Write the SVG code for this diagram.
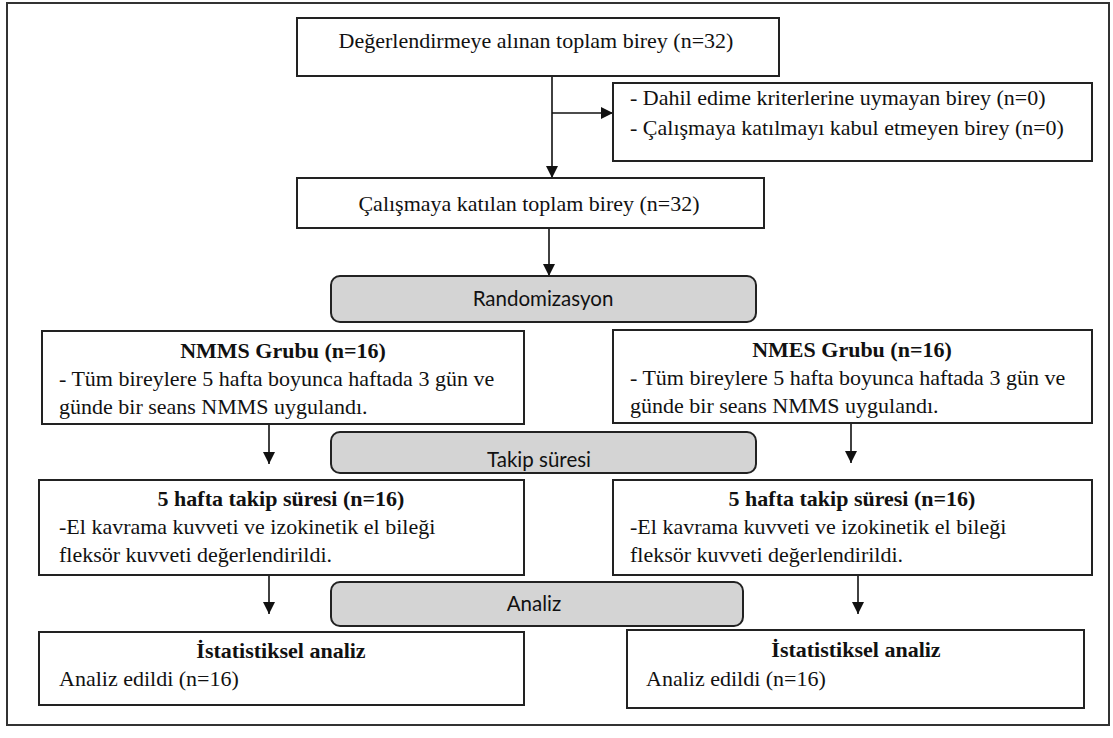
<svg xmlns="http://www.w3.org/2000/svg" width="1113" height="738" viewBox="0 0 1113 738">
<defs>
<marker id="ah" viewBox="0 0 12 12" refX="12" refY="6" markerWidth="13" markerHeight="12" markerUnits="userSpaceOnUse" orient="auto">
<path d="M0,0 L12,6 L0,12 Z" fill="#111"/>
</marker>
<style>
.box{fill:#fff;stroke:#222;stroke-width:2}
.gbox{fill:#d4d4d4;stroke:#222;stroke-width:2}
.t{font-family:"Liberation Serif","Times New Roman",serif;font-size:22px;fill:#111}
.b{font-weight:bold}
.s{font-family:Lato,"Liberation Sans",sans-serif;font-size:20.5px;fill:#111}
.c{stroke:#111;stroke-width:1.6;fill:none}
</style>
</defs>
<rect x="0" y="0" width="1113" height="738" fill="#fff"/>
<rect x="7" y="3" width="1102" height="722" fill="none" stroke="#333" stroke-width="2"/>

<g id="connectors">
<line class="c" x1="552" y1="76" x2="552" y2="178" marker-end="url(#ah)"/>
<line class="c" x1="552" y1="113" x2="613" y2="113" marker-end="url(#ah)"/>
<line class="c" x1="549" y1="228" x2="549" y2="276" marker-end="url(#ah)"/>
<line class="c" x1="269" y1="424" x2="269" y2="464" marker-end="url(#ah)"/>
<line class="c" x1="851" y1="423" x2="851" y2="463" marker-end="url(#ah)"/>
<line class="c" x1="269" y1="575" x2="269" y2="614" marker-end="url(#ah)"/>
<line class="c" x1="858" y1="575" x2="858" y2="614" marker-end="url(#ah)"/>
</g>

<g id="n-total">
<rect class="box" x="297" y="18" width="482" height="58"/>
<text class="t" x="536" y="48" text-anchor="middle">Değerlendirmeye alınan toplam birey (n=32)</text>
</g>

<g id="n-excluded">
<rect class="box" x="613" y="83" width="479" height="78"/>
<text class="t" x="630" y="105">- Dahil edime kriterlerine uymayan birey (n=0)</text>
<text class="t" x="630" y="135">- Çalışmaya katılmayı kabul etmeyen birey (n=0)</text>
</g>

<g id="n-included">
<rect class="box" x="297" y="178" width="467" height="50"/>
<text class="t" x="529" y="211" text-anchor="middle">Çalışmaya katılan toplam birey (n=32)</text>
</g>

<g id="n-random">
<rect class="gbox" x="331" y="276" width="425" height="46" rx="9"/>
<text class="s" x="543" y="306" text-anchor="middle">Randomizasyon</text>
</g>

<g id="n-nmms">
<rect class="box" x="42" y="331" width="482" height="93"/>
<text class="t b" x="283" y="358" text-anchor="middle">NMMS Grubu (n=16)</text>
<text class="t" x="59" y="386">- Tüm bireylere 5 hafta boyunca haftada 3 gün ve</text>
<text class="t" x="59" y="414">günde bir seans NMMS uygulandı.</text>
</g>

<g id="n-nmes">
<rect class="box" x="613" y="330" width="479" height="93"/>
<text class="t b" x="852" y="357" text-anchor="middle">NMES Grubu (n=16)</text>
<text class="t" x="630" y="385">- Tüm bireylere 5 hafta boyunca haftada 3 gün ve</text>
<text class="t" x="630" y="413">günde bir seans NMMS uygulandı.</text>
</g>

<g id="n-takip">
<rect class="gbox" x="331" y="432" width="425" height="41" rx="9"/>
<text class="s" x="539" y="467" text-anchor="middle">Takip süresi</text>
</g>

<g id="n-follow-left">
<rect class="box" x="39" y="480" width="485" height="95"/>
<text class="t b" x="281" y="506" text-anchor="middle">5 hafta takip süresi (n=16)</text>
<text class="t" x="59" y="534">-El kavrama kuvveti ve izokinetik el bileği</text>
<text class="t" x="59" y="562">fleksör kuvveti değerlendirildi.</text>
</g>

<g id="n-follow-right">
<rect class="box" x="613" y="480" width="479" height="95"/>
<text class="t b" x="852" y="506" text-anchor="middle">5 hafta takip süresi (n=16)</text>
<text class="t" x="630" y="534">-El kavrama kuvveti ve izokinetik el bileği</text>
<text class="t" x="630" y="562">fleksör kuvveti değerlendirildi.</text>
</g>

<g id="n-analiz">
<rect class="gbox" x="331" y="582" width="412" height="44" rx="9"/>
<text class="s" x="534" y="611" text-anchor="middle">Analiz</text>
</g>

<g id="n-stat-left">
<rect class="box" x="39" y="632" width="485" height="73"/>
<text class="t b" x="281" y="658" text-anchor="middle">İstatistiksel analiz</text>
<text class="t" x="59" y="686">Analiz edildi (n=16)</text>
</g>

<g id="n-stat-right">
<rect class="box" x="627" y="630" width="457" height="78"/>
<text class="t b" x="856" y="657" text-anchor="middle">İstatistiksel analiz</text>
<text class="t" x="646" y="686">Analiz edildi (n=16)</text>
</g>
</svg>
